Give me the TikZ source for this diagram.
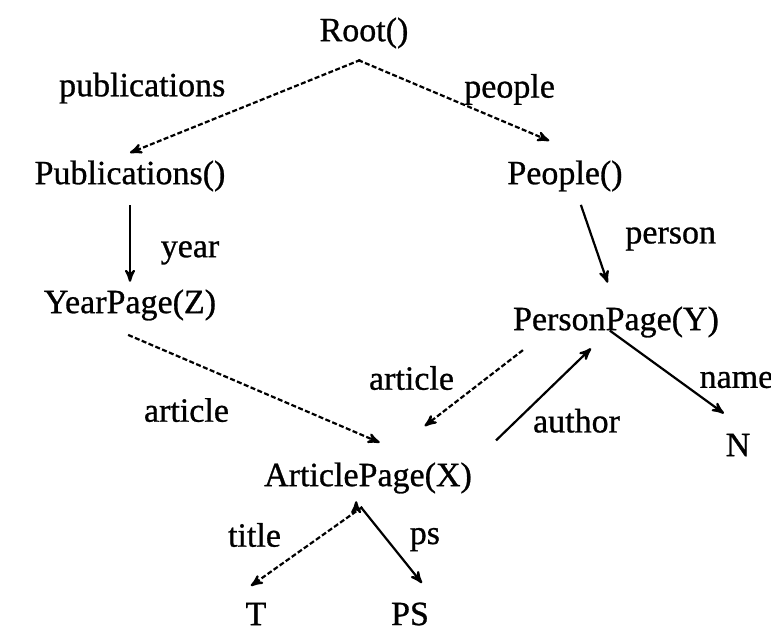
\documentclass[tikz,border=0pt]{standalone}
\usepackage{fontspec}
\setmainfont{Liberation Serif}[FakeBold=0.8]
\usetikzlibrary{positioning,arrows}

\begin{document}
\begin{tikzpicture}[->,>=stealth',line width=1.1pt,auto,on grid,
		font=\fontsize{17}{20}\selectfont,
		ref/.style={dash pattern=on 2.5pt off 1.2pt}]
			\useasboundingbox (-182pt,16.5pt) rectangle (203.5pt,-299.5pt);
			\node (root) at (0,0) {Root()};
			\node (pub) [below left=71.5pt and 117pt of root] {Publications()};
			\node (people) [below right=71.5pt and 100.5pt of root] {People()};
			\node (year) [below=64.5pt of pub] {YearPage(Z)};
			\node (person) [below right=73pt and 25.5pt of people] {PersonPage(Y)};
			\node (art) [below right=86.5pt and 119pt of year] {ArticlePage(X)};
			\node (t) [below left=68pt and 56pt of art] {T};
			\node (ps) [below right=68pt and 21pt of art] {PS};
			\node (n) [below right=61.5pt and 61pt of person] {N};

			\draw 	(root.-76) edge[ref,shorten <=5pt] node[pos=.57,above left]{publications} (pub.north)
					(root.-123) edge[ref,shorten <=5pt,shorten >=15.5pt] node[pos=.47,above right,yshift=-5.5pt]{people} (people.61)
					(pub.south) edge[shorten <=3pt] node[pos=.65,right=11.5pt]{year} (year.north)
					(people.-59) edge[shorten <=3pt,shorten >=8.5pt] node[pos=.4,right=12.5pt]{person} (person.97)
					(year.-127) edge[ref,shorten <=8.5pt,shorten >=15.5pt] node[pos=.42,below left=4.5pt and 0pt]{article} (art.30)
					(person.-165) edge[ref,shorten <=4pt,shorten >=23.5pt] node[pos=.3,left=12.5pt]{article} (art.50)
					(art.11.65) edge[shorten <=11.4pt,shorten >=2.3pt] node[pos=.32,right=4.5pt]{author} (person.-133.5)
					(person.-59) edge[shorten <=-12.4pt,shorten >=10.8pt] node[pos=.43,right=7pt]{name} (n.80)
					(art.-84) edge[ref,shorten <=5pt,shorten >=8pt] node[pos=.36,left=17pt]{title} (t.north west)
					(art.-117) edge[shorten <=3.6pt,shorten >=7.5pt] node[pos=.41,right=7.5pt]{ps} (ps.42.6);
\end{tikzpicture}
\end{document}
